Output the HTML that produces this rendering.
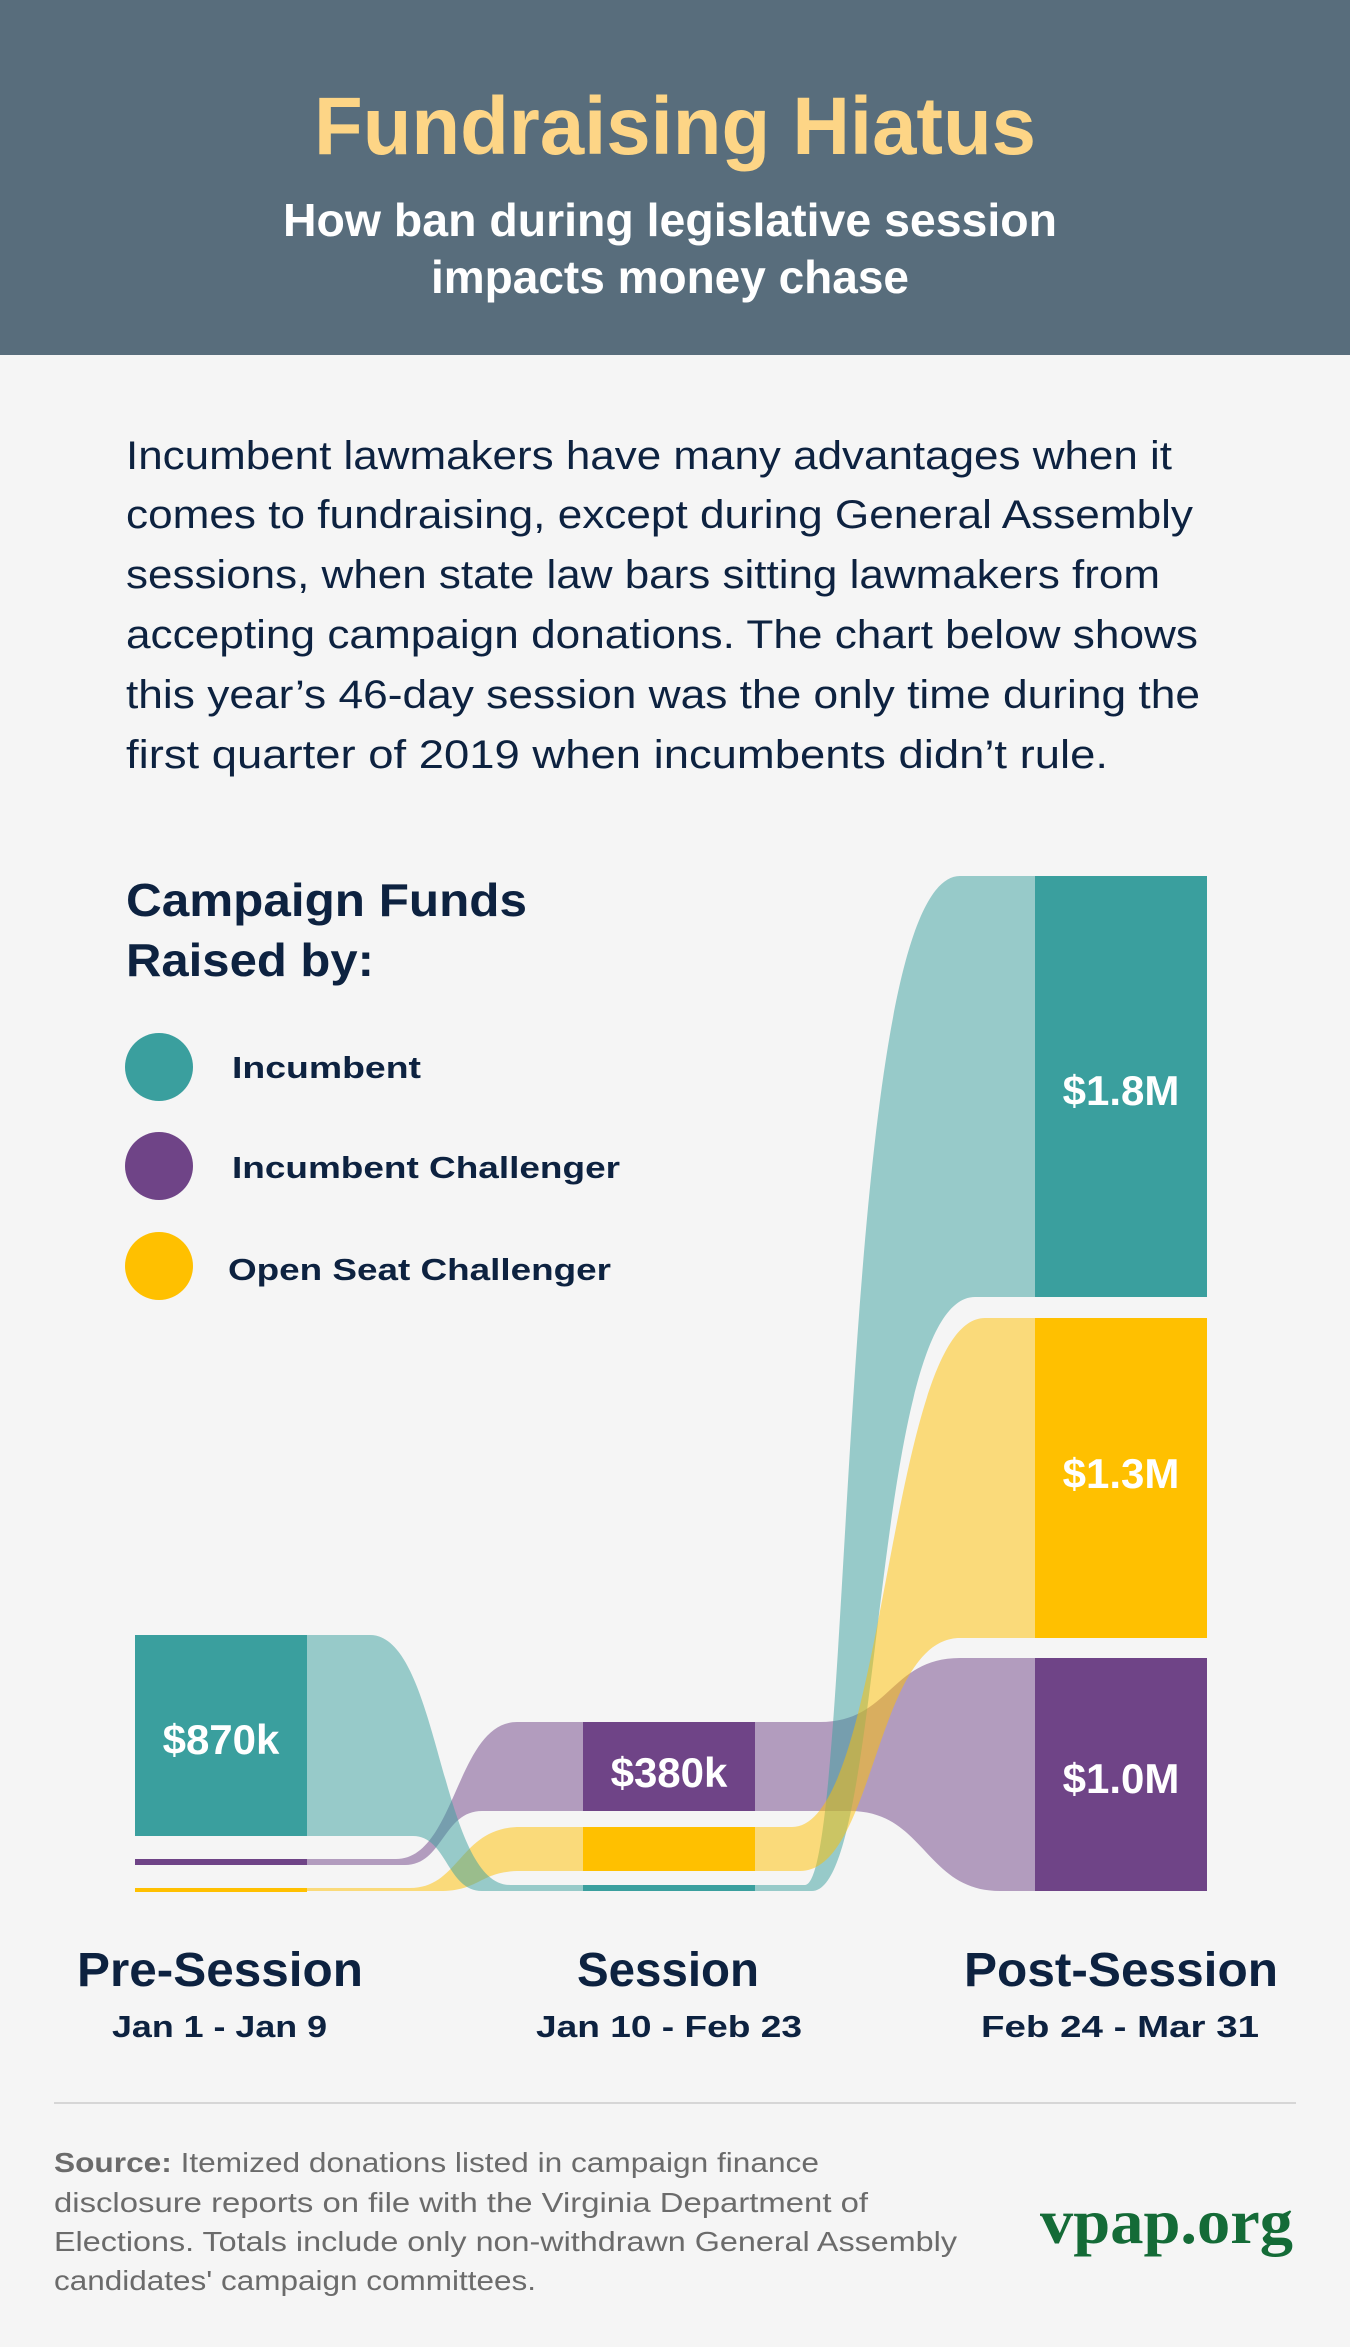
<!DOCTYPE html>
<html><head><meta charset="utf-8"><style>
html,body{margin:0;padding:0;background:#f5f5f5;}
svg{display:block;}
text{font-family:"Liberation Sans",sans-serif;}
</style></head><body>
<svg width="1350" height="2347" viewBox="0 0 1350 2347" xmlns="http://www.w3.org/2000/svg">
<rect width="1350" height="2347" fill="#f5f5f5"/>
<rect width="1350" height="355" fill="#586d7c"/>
<text x="314" y="154" font-size="82" font-weight="bold" fill="#fdd586" textLength="722" lengthAdjust="spacingAndGlyphs">Fundraising Hiatus</text>
<text x="283" y="236" font-size="46" font-weight="bold" fill="#fff" textLength="774" lengthAdjust="spacingAndGlyphs">How ban during legislative session</text>
<text x="431" y="293" font-size="46" font-weight="bold" fill="#fff" textLength="478" lengthAdjust="spacingAndGlyphs">impacts money chase</text>

<g font-size="40" fill="#0d2240">
<text x="126" y="469" textLength="1046" lengthAdjust="spacingAndGlyphs">Incumbent lawmakers have many advantages when it</text>
<text x="126" y="528" textLength="1067" lengthAdjust="spacingAndGlyphs">comes to fundraising, except during General Assembly</text>
<text x="126" y="588" textLength="1034" lengthAdjust="spacingAndGlyphs">sessions, when state law bars sitting lawmakers from</text>
<text x="126" y="648" textLength="1072" lengthAdjust="spacingAndGlyphs">accepting campaign donations. The chart below shows</text>
<text x="126" y="708" textLength="1074" lengthAdjust="spacingAndGlyphs">this year’s 46-day session was the only time during the</text>
<text x="126" y="768" textLength="982" lengthAdjust="spacingAndGlyphs">first quarter of 2019 when incumbents didn’t rule.</text>
</g>

<g font-weight="bold" fill="#0d2240">
<text x="126" y="916" font-size="46" textLength="401" lengthAdjust="spacingAndGlyphs">Campaign Funds</text>
<text x="126" y="976" font-size="46" textLength="248" lengthAdjust="spacingAndGlyphs">Raised by:</text>
<text x="232" y="1078" font-size="31" textLength="189" lengthAdjust="spacingAndGlyphs">Incumbent</text>
<text x="232" y="1178" font-size="31" textLength="388" lengthAdjust="spacingAndGlyphs">Incumbent Challenger</text>
<text x="228" y="1280" font-size="31" textLength="383" lengthAdjust="spacingAndGlyphs">Open Seat Challenger</text>
</g>
<circle cx="159" cy="1067" r="34" fill="#3a9f9e"/>
<circle cx="159" cy="1166" r="34" fill="#6f4487"/>
<circle cx="159" cy="1266" r="34" fill="#ffc000"/>

<!-- links pre -> session -->
<g fill-opacity="0.5">
<path d="M307,1859 L396,1859 C456,1859 456,1722 517,1722 L583,1722 L583,1811 L482,1811 C443,1811 443,1865 405,1865 L307,1865 Z" fill="#6f4487"/>
<path d="M307,1888 L410,1888 C460,1888 460,1827 520,1827 L583,1827 L583,1871 L520,1871 C480,1871 480,1891 440,1891 L307,1891 Z" fill="#ffc000"/>
<path d="M307,1635 L370,1635 C440,1635 440,1885 510,1885 L583,1885 L583,1891 L482,1891 C447,1891 447,1836 413,1836 L307,1836 Z" fill="#3a9f9e"/>
</g>
<!-- links session -> post -->
<g fill-opacity="0.5">
<path d="M755,1722 L820,1722 C890,1722 890,1658 960,1658 L1035,1658 L1035,1891 L1000,1891 C925,1891 925,1811 850,1811 L755,1811 Z" fill="#6f4487"/>
<path d="M755,1885 L805,1885 C855,1885 835,876 960,876 L1035,876 L1035,1297 L975,1297 C870,1297 885,1891 812,1891 L755,1891 Z" fill="#3a9f9e"/>
<path d="M755,1827 L792,1827 C887,1827 887,1318 985,1318 L1035,1318 L1035,1638 L960,1638 C875,1638 875,1871 800,1871 L755,1871 Z" fill="#ffc000"/>
</g>

<!-- nodes -->
<rect x="135" y="1635" width="172" height="201" fill="#3a9f9e"/>
<rect x="135" y="1859" width="172" height="6" fill="#6f4487"/>
<rect x="135" y="1888" width="172" height="4" fill="#ffc000"/>
<rect x="583" y="1722" width="172" height="89" fill="#6f4487"/>
<rect x="583" y="1827" width="172" height="44" fill="#ffc000"/>
<rect x="583" y="1885" width="172" height="6" fill="#3a9f9e"/>
<rect x="1035" y="876" width="172" height="421" fill="#3a9f9e"/>
<rect x="1035" y="1318" width="172" height="320" fill="#ffc000"/>
<rect x="1035" y="1658" width="172" height="233" fill="#6f4487"/>

<g font-size="42" font-weight="bold" fill="#fff" text-anchor="middle">
<text x="221" y="1754">$870k</text>
<text x="669" y="1787">$380k</text>
<text x="1121" y="1105">$1.8M</text>
<text x="1121" y="1488">$1.3M</text>
<text x="1121" y="1793">$1.0M</text>
</g>

<g font-weight="bold" fill="#0d2240">
<text x="77" y="1986" font-size="48" textLength="286" lengthAdjust="spacingAndGlyphs">Pre-Session</text>
<text x="577" y="1986" font-size="48" textLength="182" lengthAdjust="spacingAndGlyphs">Session</text>
<text x="964" y="1986" font-size="48" textLength="314" lengthAdjust="spacingAndGlyphs">Post-Session</text>
<text x="112" y="2037" font-size="31" textLength="215" lengthAdjust="spacingAndGlyphs">Jan 1 - Jan 9</text>
<text x="536" y="2037" font-size="31" textLength="266" lengthAdjust="spacingAndGlyphs">Jan 10 - Feb 23</text>
<text x="981" y="2037" font-size="31" textLength="278" lengthAdjust="spacingAndGlyphs">Feb 24 - Mar 31</text>
</g>

<rect x="54" y="2102" width="1242" height="2" fill="#d6d6d6"/>

<g font-size="28" fill="#6b6b6b">
<text x="54" y="2172" textLength="765" lengthAdjust="spacingAndGlyphs"><tspan font-weight="bold">Source:</tspan> Itemized donations listed in campaign finance</text>
<text x="54" y="2212" textLength="814" lengthAdjust="spacingAndGlyphs">disclosure reports on file with the Virginia Department of</text>
<text x="54" y="2251" textLength="903" lengthAdjust="spacingAndGlyphs">Elections. Totals include only non-withdrawn General Assembly</text>
<text x="54" y="2290" textLength="482" lengthAdjust="spacingAndGlyphs">candidates' campaign committees.</text>
</g>
<text x="1040" y="2243" font-size="64" font-weight="bold" fill="#146b37" style="font-family:'Liberation Serif',serif" textLength="253" lengthAdjust="spacingAndGlyphs">vpap.org</text>
</svg>
</body></html>
